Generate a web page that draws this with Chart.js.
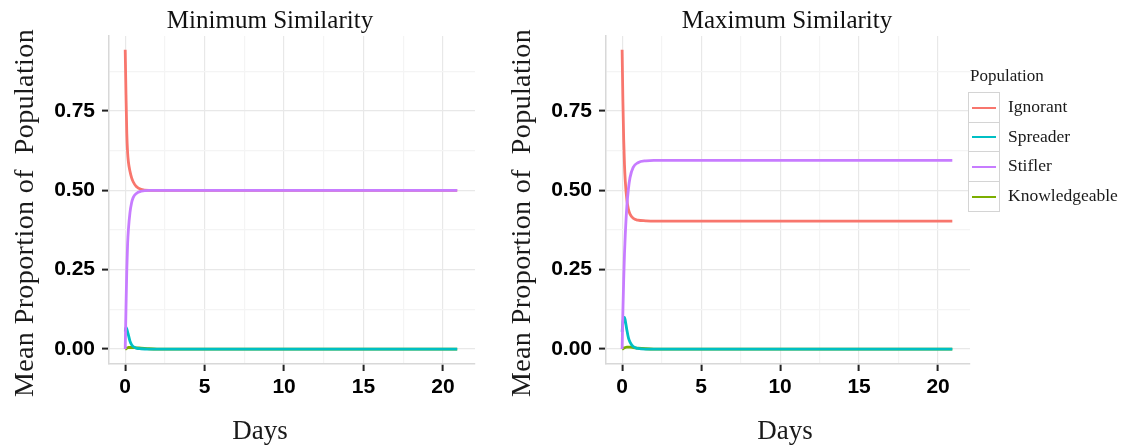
<!DOCTYPE html>
<html>
<head>
<meta charset="utf-8">
<script src="https://cdn.jsdelivr.net/npm/chart.js@4.4.0/dist/chart.umd.min.js"></script>
<style>
  body { margin: 0; background: #fff; }
  #wrap { position: relative; width: 1128px; height: 448px; overflow: hidden; background: #fff; }
  canvas { position: absolute; top: 0; }
  #minChart { left: 0; }
  #maxChart { left: 497px; }
  #legend { position: absolute; left: 968px; top: 66px; font-family: 'Liberation Serif', serif; color: #1a1a1a; }
  #legend .ttl { font-size: 17px; margin-left: 2px; height: 26px; line-height: 20px; }
  #legend .item { position: relative; height: 29.7px; }
  #legend .key { position: absolute; left: 0; top: 0; width: 30px; height: 28.7px; border: 1px solid #d4d4d4; background: #fff; }
  #legend .key span { position: absolute; left: 3px; top: 13.5px; width: 24px; height: 2px; }
  #legend .lab { position: absolute; left: 40px; top: 3px; font-size: 17.5px; line-height: 22px; white-space: nowrap; }
</style>
</head>
<body>
<div id="wrap">
  <canvas id="minChart" width="540" height="448"></canvas>
  <canvas id="maxChart" width="580" height="448"></canvas>
  <div id="legend"></div>
</div>
<script>
const days = [0, 0.05, 0.1, 0.15, 0.2, 0.3, 0.4, 0.5, 0.7, 1, 1.5, 2, 3, 5, 10, 15, 20.9];

// Minimum Similarity
const minIgnorant = [0.943, 0.80, 0.68, 0.62, 0.59, 0.56, 0.54, 0.527, 0.512, 0.503, 0.5, 0.5, 0.5, 0.5, 0.5, 0.5, 0.5];
const minSpreader = [0.055, 0.068, 0.063, 0.054, 0.045, 0.025, 0.014, 0.008, 0.003, 0.001, 0, 0, 0, 0, 0, 0, 0];
const minStifler = [0, 0.13, 0.25, 0.33, 0.375, 0.43, 0.46, 0.477, 0.49, 0.497, 0.5, 0.5, 0.5, 0.5, 0.5, 0.5, 0.5];
const minKnowledgeable = [0, 0.001, 0.003, 0.004, 0.005, 0.005, 0.005, 0.005, 0.004, 0.003, 0.001, 0, 0, 0, 0, 0, 0];

// Maximum Similarity
const maxIgnorant = [0.943, 0.78, 0.66, 0.58, 0.53, 0.47, 0.44, 0.425, 0.412, 0.406, 0.404, 0.403, 0.403, 0.403, 0.403, 0.403, 0.403];
const maxSpreader = [0.054, 0.085, 0.1, 0.1, 0.09, 0.06, 0.035, 0.022, 0.008, 0.002, 0, 0, 0, 0, 0, 0, 0];
const maxStifler = [0, 0.12, 0.22, 0.3, 0.36, 0.45, 0.505, 0.54, 0.572, 0.587, 0.593, 0.594, 0.594, 0.594, 0.594, 0.594, 0.594];
const maxKnowledgeable = [0, 0.001, 0.003, 0.004, 0.005, 0.006, 0.006, 0.006, 0.005, 0.003, 0.001, 0, 0, 0, 0, 0, 0];

const groups = ['Ignorant', 'Spreader', 'Stifler', 'Knowledgeable'];
const colors = { Ignorant: '#F8766D', Spreader: '#00BFC4', Stifler: '#C77CFF', Knowledgeable: '#7CAE00' };
// first dataset is drawn on top
const drawOrder = ['Stifler', 'Spreader', 'Knowledgeable', 'Ignorant'];

const xMajor = [0, 5, 10, 15, 20];
const xMinor = [2.5, 7.5, 12.5, 17.5];
const yMajor = [0, 0.25, 0.5, 0.75];
const yMinor = [0.125, 0.375, 0.625, 0.875];

const axisTitles = {
	id: 'axisTitles',
	afterDraw(chart, args, opts) {
		const ctx = chart.ctx;
		ctx.save();
		ctx.fillStyle = '#1a1a1a';
		ctx.textAlign = 'center';
		ctx.textBaseline = 'alphabetic';
		ctx.font = '27px "Liberation Serif"';
		ctx.fillText(opts.xText, opts.xAt[0], opts.xAt[1]);
		ctx.font = '28px "Liberation Serif"';
		ctx.letterSpacing = '0.4px';
		ctx.translate(opts.yAt[0], opts.yAt[1]);
		ctx.rotate(-Math.PI / 2);
		ctx.fillText(opts.yText, 0, 0);
		ctx.restore();
	}
};

const tickFont = { family: 'Liberation Sans', weight: 'bold', size: 21 };
const gridColor = major => c => (c.tick && major.includes(c.tick.value)) ? '#e8e8e8' : '#f4f4f4';
const tickColor = major => c => (c.tick && major.includes(c.tick.value)) ? '#222' : 'rgba(0,0,0,0)';

function makeChart(id, title, series, rightGap, daysX) {
	new Chart(document.getElementById(id), {
		type: 'line',
		data: {
			datasets: drawOrder.map(name => ({
				label: name,
				data: days.map((d, i) => ({ x: d, y: series[name][i] })),
				borderColor: colors[name],
				borderWidth: 2.8,
				pointRadius: 0,
				cubicInterpolationMode: 'monotone',
				fill: false
			}))
		},
		options: {
			responsive: false,
			animation: false,
			plugins: {
				legend: { display: false },
				tooltip: { enabled: false },
				title: {
					display: true,
					text: title,
					color: '#111',
					font: { family: 'Liberation Serif', size: 25, weight: 'normal' },
					padding: { top: 6, bottom: 0 }
				},
				axisTitles: { xText: 'Days', xAt: [daysX, 439], yText: 'Mean Proportion of  Population', yAt: [33, 213] }
			},
			scales: {
				x: {
					type: 'linear',
					min: -1.02,
					max: 22.02,
					afterBuildTicks: s => { s.ticks = xMajor.concat(xMinor).sort((a, b) => a - b).map(v => ({ value: v })); },
					afterFit: s => { s.height = 84; },
					ticks: {
						autoSkip: false, maxRotation: 0, padding: 4, color: '#000', font: tickFont,
						callback: v => xMajor.includes(v) ? String(v) : ''
					},
					grid: { color: gridColor(xMajor), lineWidth: 1.2, tickLength: 7, tickColor: tickColor(xMajor), tickWidth: 2 },
					border: { color: '#d8d8d8', width: 1.5 }
				},
				y: {
					min: -0.047,
					max: 0.986,
					afterBuildTicks: s => { s.ticks = yMajor.concat(yMinor).sort((a, b) => a - b).map(v => ({ value: v })); },
					afterFit: s => { s.width = 109; },
					ticks: {
						autoSkip: false, padding: 7, color: '#000', font: tickFont,
						callback: v => yMajor.includes(v) ? v.toFixed(2) : ''
					},
					grid: { color: gridColor(yMajor), lineWidth: 1.2, tickLength: 7, tickColor: tickColor(yMajor), tickWidth: 2 },
					border: { color: '#d8d8d8', width: 1.5 }
				},
				// empty space on the right so the title centres over the whole figure
				gap: {
					position: 'right',
					afterFit: s => { s.width = rightGap; },
					ticks: { display: false },
					grid: { display: false, drawTicks: false },
					border: { display: false }
				}
			}
		},
		plugins: [axisTitles]
	});
}

makeChart('minChart', 'Minimum Similarity',
	{ Ignorant: minIgnorant, Spreader: minSpreader, Stifler: minStifler, Knowledgeable: minKnowledgeable }, 65, 260);
makeChart('maxChart', 'Maximum Similarity',
	{ Ignorant: maxIgnorant, Spreader: maxSpreader, Stifler: maxStifler, Knowledgeable: maxKnowledgeable }, 107, 288);

// legend in the ggplot style
const legend = document.getElementById('legend');
legend.innerHTML = '<div class="ttl">Population</div>' + groups.map(g =>
	'<div class="item"><div class="key"><span style="background:' + colors[g] + '"></span></div>' +
	'<div class="lab">' + g + '</div></div>').join('');
</script>
</body>
</html>
